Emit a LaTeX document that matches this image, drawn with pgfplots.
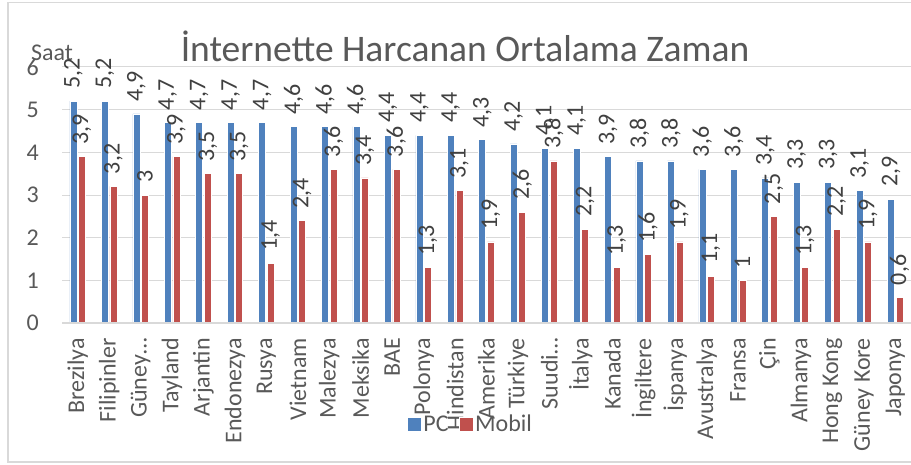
\documentclass[border=0pt]{standalone}
\usepackage{pgfplots}
\pgfplotsset{compat=1.18}
\usepackage{pgfplotstable}
\usepackage{fontspec}
\setmainfont{Carlito}
\definecolor{pcblue}{HTML}{4F81BD}
\definecolor{mred}{HTML}{C0504D}
\definecolor{txtgray}{HTML}{595959}
\definecolor{lblgray}{HTML}{404040}
\definecolor{gridgray}{HTML}{D9D9D9}

\pgfplotstableread{
x pc mob
0 5.2 3.9
1 5.2 3.2
2 4.9 3
3 4.7 3.9
4 4.7 3.5
5 4.7 3.5
6 4.7 1.4
7 4.6 2.4
8 4.6 3.6
9 4.6 3.4
10 4.4 3.6
11 4.4 1.3
12 4.4 3.1
13 4.3 1.9
14 4.2 2.6
15 4.1 3.8
16 4.1 2.2
17 3.9 1.3
18 3.8 1.6
19 3.8 1.9
20 3.6 1.1
21 3.6 1
22 3.4 2.5
23 3.3 1.3
24 3.3 2.2
25 3.1 1.9
26 2.9 0.6
}\datatable

\begin{document}
\begin{tikzpicture}
\useasboundingbox (0,0) rectangle (911pt,464pt);
\draw[gridgray, line width=1.2pt] (8pt,2pt) rectangle (930pt,461.5pt);
\node[text=txtgray, font=\fontsize{37.5}{42}\selectfont] at (465pt,418pt) {İnternette Harcanan Ortalama Zaman};
\node[text=txtgray, font=\fontsize{24}{28}\selectfont] at (52pt,411pt) {Saat};
\begin{axis}[
  at={(62pt,141pt)}, anchor=south west,
  scale only axis, width=849pt, height=256pt,
  xmin=-0.5, xmax=26.5, ymin=0, ymax=6,
  ybar=1.5pt, bar width=7pt,
  axis line style={draw=none},
  major tick length=0pt,
  ymajorgrids, grid style={gridgray, line width=1pt},
  ytick={0,1,2,3,4,5,6},
  xtick={0,...,26},
  xticklabels={Brezilya,Filipinler,Güney…,Tayland,Arjantin,Endonezya,Rusya,Vietnam,Malezya,Meksika,BAE,Polonya,Hindistan,Amerika,Türkiye,Suudi…,İtalya,Kanada,İngiltere,İspanya,Avustralya,Fransa,Çin,Almanya,Hong Kong,Güney Kore,Japonya},
  /pgf/number format/assume math mode=true,
  tick label style={text=txtgray, font=\fontsize{24}{28}\selectfont},
  yticklabel style={anchor=east, inner xsep=0pt, xshift=-23pt},
  xticklabel style={rotate=90, anchor=east, inner xsep=0pt, xshift=-15pt},
  nodes near coords={\pgfmathprintnumber[use comma]{\pgfplotspointmeta}},
  every node near coord/.append style={rotate=90, anchor=west, inner xsep=12pt, text=lblgray, font=\fontsize{24}{28}\selectfont},
  legend columns=2,
  legend style={at={(0.481,-0.3945)}, anchor=center, draw=none, fill=none,
    font=\fontsize{24}{28}\selectfont, text=txtgray,
    /tikz/every even column/.append style={column sep=8pt}},
  legend image code/.code={\fill[#1] (0pt,-7pt) rectangle (14pt,7pt);},
]
\addplot[fill=pcblue, draw=white, line width=0.6pt] table[x=x, y=pc] {\datatable};
\addplot[fill=mred, draw=white, line width=0.6pt] table[x=x, y=mob] {\datatable};
\legend{PC, Mobil}
\draw[gridgray, line width=1.6pt] (axis cs:-0.5,0) -- (axis cs:26.5,0);
\end{axis}
\end{tikzpicture}
\end{document}
